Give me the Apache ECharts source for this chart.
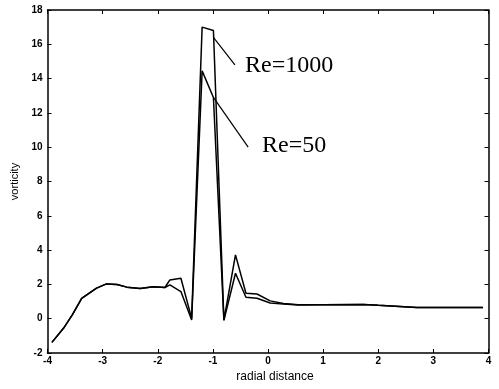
<!DOCTYPE html>
<html>
<head>
<meta charset="utf-8">
<script src="https://cdn.jsdelivr.net/npm/echarts@6/dist/echarts.min.js"></script>
<style>html,body{margin:0;padding:0;background:#fff;}#c{width:499px;height:389px;}</style>
</head>
<body>
<div id="c"></div>
<script>
// radial distance samples
var xs = [-3.92, -3.71, -3.55, -3.38, -3.11, -2.93, -2.74, -2.56, -2.32, -2.08, -1.87, -1.78, -1.58, -1.385, -1.195, -0.99, -0.80, -0.59, -0.40, -0.20, 0.04, 0.28, 0.55, 1.0, 1.73, 2.0, 2.7, 3.9];
// vorticity, Re=1000
var re1000 = [-1.38, -0.56, 0.22, 1.19, 1.78, 2.03, 1.99, 1.84, 1.76, 1.86, 1.82, 2.26, 2.36, 0.02, 17.0, 16.8, -0.08, 3.72, 1.48, 1.44, 1.04, 0.88, 0.82, 0.82, 0.83, 0.78, 0.66, 0.65];
// vorticity, Re=50
var re50 = [-1.38, -0.56, 0.22, 1.19, 1.78, 2.03, 1.99, 1.84, 1.76, 1.86, 1.82, 1.97, 1.58, -0.08, 14.45, 12.9, -0.10, 2.65, 1.25, 1.19, 0.92, 0.85, 0.80, 0.82, 0.83, 0.78, 0.66, 0.65];
var xTicks = [-4, -3, -2, -1, 0, 1, 2, 3, 4];
var yTicks = [-2, 0, 2, 4, 6, 8, 10, 12, 14, 16, 18];
var labels = ["Re=1000", "Re=50"];
// annotation pointer lines (data coordinates)
var ptr1000 = [[-0.99, 16.4], [-0.60, 14.8]];
var ptr50 = [[-0.99, 12.9], [-0.36, 10.0]];

function pairs(x, y) { return x.map(function (v, i) { return [v, y[i]]; }); }

var chart = echarts.init(document.getElementById('c'), null, {renderer: 'canvas'});
var tickFont = {fontFamily: 'Liberation Sans', fontSize: 10, fontWeight: 'bold', color: '#000'};
function axisBase() {
  return {
    axisLine: {show: true, onZero: false, lineStyle: {color: '#000', width: 1.5}},
    axisTick: {show: true, inside: true, length: 4, lineStyle: {color: '#000', width: 1}},
    splitLine: {show: false}
  };
}
chart.setOption({
  animation: false,
  backgroundColor: '#fff',
  grid: {left: 47.5, right: 10.5, top: 10, bottom: 36},
  xAxis: [
    Object.assign({type: 'value', min: xTicks[0], max: xTicks[xTicks.length - 1], interval: 1, position: 'bottom',
      name: 'radial distance', nameLocation: 'middle', nameGap: 9,
      nameTextStyle: {fontFamily: 'Liberation Sans', fontSize: 12, color: '#000', padding: [0, 0, 0, 14]},
      axisLabel: Object.assign({margin: 3}, tickFont)}, axisBase()),
    Object.assign({type: 'value', min: xTicks[0], max: xTicks[xTicks.length - 1], interval: 1, position: 'top',
      axisLabel: {show: false}}, axisBase())
  ],
  yAxis: [
    Object.assign({type: 'value', min: yTicks[0], max: yTicks[yTicks.length - 1], interval: 2, position: 'left',
      name: 'vorticity', nameLocation: 'middle', nameGap: 21, nameRotate: 90,
      nameTextStyle: {fontFamily: 'Liberation Sans', fontSize: 11, color: '#000'},
      axisLabel: Object.assign({margin: 5}, tickFont)}, axisBase()),
    Object.assign({type: 'value', min: yTicks[0], max: yTicks[yTicks.length - 1], interval: 2, position: 'right',
      axisLabel: {show: false}}, axisBase())
  ],
  series: [
    {type: 'line', name: labels[0], data: pairs(xs, re1000), symbol: 'none', lineStyle: {color: '#000', width: 1.5}},
    {type: 'line', name: labels[1], data: pairs(xs, re50), symbol: 'none', lineStyle: {color: '#000', width: 1.5}},
    {type: 'line', data: ptr1000, symbol: 'none', lineStyle: {color: '#000', width: 1.2}},
    {type: 'line', data: ptr50, symbol: 'none', lineStyle: {color: '#000', width: 1.2}}
  ],
  graphic: [
    {type: 'text', left: 245, top: 54, style: {text: labels[0], fontFamily: 'Liberation Serif', fontSize: 24, fill: '#000'}},
    {type: 'text', left: 262, top: 134, style: {text: labels[1], fontFamily: 'Liberation Serif', fontSize: 24, fill: '#000'}}
  ]
});
</script>
</body>
</html>
